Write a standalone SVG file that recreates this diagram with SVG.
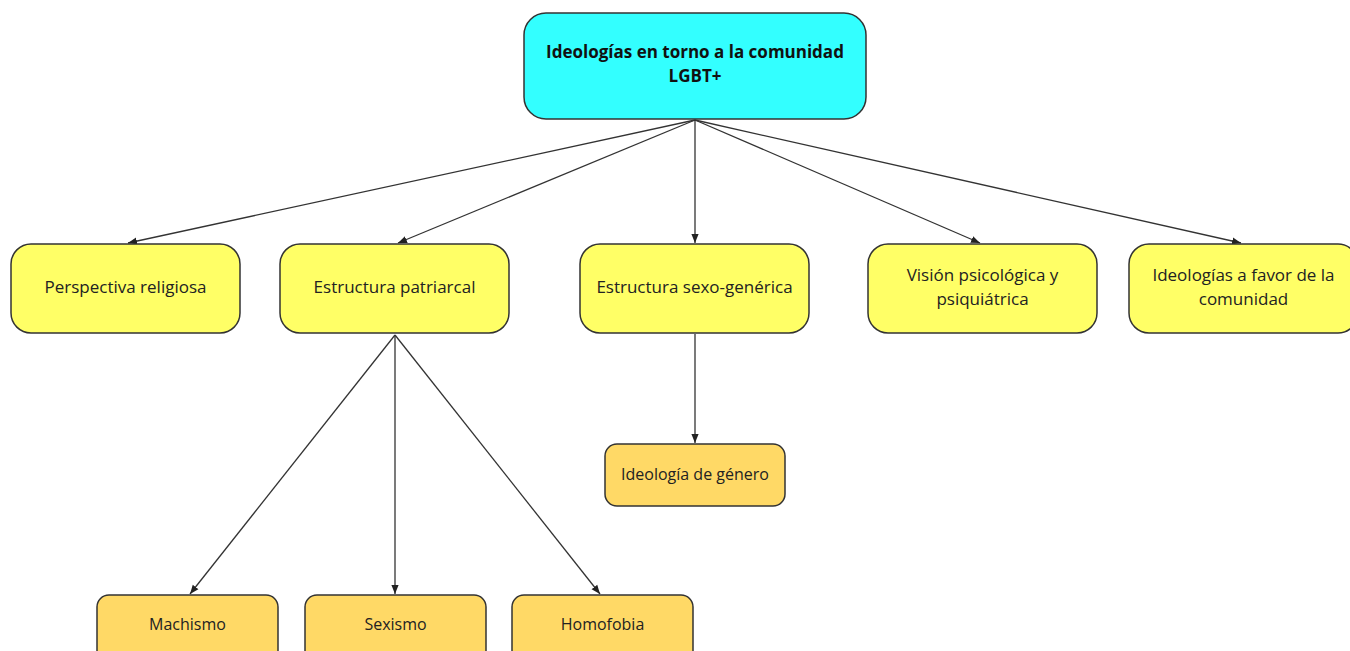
<svg xmlns="http://www.w3.org/2000/svg" width="1350" height="651" viewBox="0 0 1350 651">
<style>
text{font-family:"Open Sans","Noto Sans",sans-serif;fill:#222;text-anchor:middle}
.l2{fill:#ffff66;stroke:#333;stroke-width:1.5}
.l3{fill:#ffd966;stroke:#333;stroke-width:1.5}
.top{fill:#33ffff;stroke:#333;stroke-width:1.5}
.t2{font-size:17px}
.t3{font-size:16px}
.tt{font-size:17px;font-weight:bold;fill:#111}
.e{stroke:#333;stroke-width:1.3;fill:none;marker-end:url(#ah)}
</style>
<defs>
<marker id="ah" viewBox="0 0 10 10" refX="10" refY="5" markerWidth="9" markerHeight="9" markerUnits="userSpaceOnUse" orient="auto">
<path d="M0,1 L10,5 L0,9 z" fill="#222"/>
</marker>
</defs>
<rect width="1350" height="651" fill="#fff"/>
<g id="connectors">
<line class="e" x1="695" y1="120" x2="128" y2="243"/>
<line class="e" x1="695" y1="120" x2="398" y2="243"/>
<line class="e" x1="695" y1="120" x2="695" y2="243"/>
<line class="e" x1="695" y1="120" x2="980" y2="243"/>
<line class="e" x1="695" y1="120" x2="1241" y2="243"/>
<line class="e" x1="395" y1="335" x2="190" y2="594"/>
<line class="e" x1="395" y1="335" x2="395" y2="594"/>
<line class="e" x1="395" y1="335" x2="600" y2="594"/>
<line class="e" x1="695" y1="334" x2="695" y2="443"/>
</g>
<g id="n-top"><rect class="top" x="524" y="13" width="342" height="106" rx="22"/><text class="tt" x="695" y="58">Ideologías en torno a la comunidad</text><text class="tt" x="695" y="82">LGBT+</text></g>
<g id="n-religiosa"><rect class="l2" x="11" y="244" width="229" height="89" rx="20"/><text class="t2" x="125.5" y="293">Perspectiva religiosa</text></g>
<g id="n-patriarcal"><rect class="l2" x="280" y="244" width="229" height="89" rx="20"/><text class="t2" x="394.5" y="293">Estructura patriarcal</text></g>
<g id="n-sexo"><rect class="l2" x="580" y="244" width="229" height="89" rx="20"/><text class="t2" x="694.5" y="293">Estructura sexo-genérica</text></g>
<g id="n-psico"><rect class="l2" x="868" y="244" width="229" height="89" rx="20"/><text class="t2" x="982.5" y="281">Visión psicológica y</text><text class="t2" x="982.5" y="305">psiquiátrica</text></g>
<g id="n-favor"><rect class="l2" x="1129" y="244" width="229" height="89" rx="20"/><text class="t2" x="1243.5" y="281">Ideologías a favor de la</text><text class="t2" x="1243.5" y="305">comunidad</text></g>
<g id="n-genero"><rect class="l3" x="605" y="444" width="180" height="62" rx="12"/><text class="t3" x="695" y="480">Ideología de género</text></g>
<g id="n-machismo"><rect class="l3" x="97" y="595" width="181" height="70" rx="12"/><text class="t3" x="187.5" y="630">Machismo</text></g>
<g id="n-sexismo"><rect class="l3" x="305" y="595" width="181" height="70" rx="12"/><text class="t3" x="395.5" y="630">Sexismo</text></g>
<g id="n-homofobia"><rect class="l3" x="512" y="595" width="181" height="70" rx="12"/><text class="t3" x="602.5" y="630">Homofobia</text></g>
</svg>
